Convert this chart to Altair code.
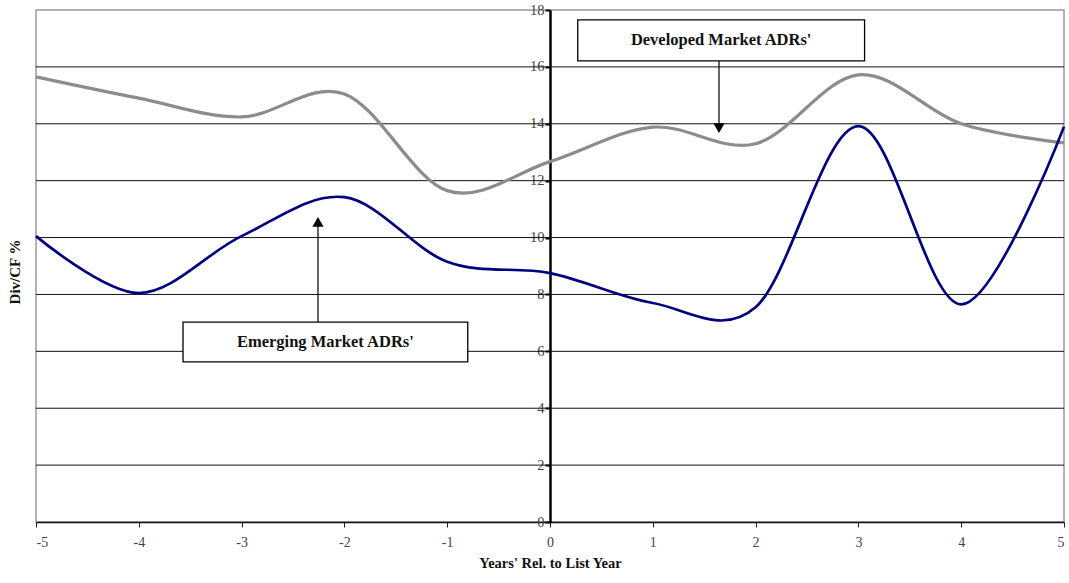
import altair as alt
import pandas as pd

# Years relative to the listing year
years = [-5, -4, -3, -2, -1, 0, 1, 2, 3, 4, 5]

# Dividend / cash-flow ratio (%) by group
developed = [15.65, 14.9, 14.24, 15.05, 11.65, 12.67, 13.88, 13.3, 15.72, 14.0, 13.33]
emerging = [10.05, 8.05, 10.05, 11.42, 9.15, 8.75, 7.7, 7.55, 13.92, 7.65, 13.9]

y_ticks = [0, 2, 4, 6, 8, 10, 12, 14, 16, 18]
grid_values = [2, 4, 6, 8, 10, 12, 14, 16]

SERIF = "Liberation Serif"
W, H = 1028, 512

df = pd.DataFrame(
    {"year": years * 2,
     "value": developed + emerging,
     "series": ["Developed"] * len(years) + ["Emerging"] * len(years)}
)

x_scale = alt.Scale(domain=[-5, 5], nice=False, zero=False)
y_scale = alt.Scale(domain=[0, 18], nice=False)

x_axis = alt.Axis(
    values=years, labelExpr="'' + datum.value", title="Years' Rel. to List Year",
    titleFont=SERIF, titleFontSize=14.5, titleFontWeight="bold",
    titleColor="#111111", titlePadding=7,
    labelFont=SERIF, labelFontSize=14, labelColor="#444444",
    labelPadding=8, tickSize=5, tickColor="#222222",
    domainColor="#111111", domainWidth=1.5, grid=False,
)
# The value axis sits on the x = 0 line, in the middle of the plot
y_axis = alt.Axis(
    values=y_ticks, title=None, offset=-W / 2,
    labelFont=SERIF, labelFontSize=14.5, labelColor="#444444",
    labelPadding=1, tickSize=5, tickColor="#000000", tickWidth=2,
    domainColor="#000000", domainWidth=2.5, grid=False,
)

grid = alt.Chart(pd.DataFrame({"v": grid_values})).mark_rule(
    color="#111111", strokeWidth=1
).encode(y=alt.Y("v:Q", scale=y_scale, axis=y_axis))

lines = alt.Chart(df).mark_line(interpolate="cardinal").encode(
    x=alt.X("year:Q", scale=x_scale, axis=x_axis),
    y=alt.Y("value:Q", scale=y_scale, axis=y_axis),
    color=alt.Color(
        "series:N",
        scale=alt.Scale(domain=["Developed", "Emerging"], range=["#8c8c8c", "#000080"]),
        legend=None,
    ),
    strokeWidth=alt.StrokeWidth(
        "series:N",
        scale=alt.Scale(domain=["Developed", "Emerging"], range=[3.2, 2.7]),
        legend=None,
    ),
)

# Callout boxes with pointer arrows
boxes = pd.DataFrame({
    "x1": [0.27, -3.57], "x2": [3.06, -0.80],
    "y1": [16.21, 5.63], "y2": [17.65, 7.03],
    "label": ["Developed Market ADRs'", "Emerging Market ADRs'"],
    "ax": [1.644, -2.257], "ay1": [16.21, 7.03], "ay2": [13.85, 10.55],
    "tx": [1.665, -2.185], "ty": [16.93, 6.33],
    "shape": ["triangle-down", "triangle-up"],
})
bx = alt.Chart(boxes)

arrow_shafts = bx.mark_rule(color="#000000", strokeWidth=1.2).encode(
    x=alt.X("ax:Q", scale=x_scale), y=alt.Y("ay1:Q", scale=y_scale), y2="ay2:Q"
)
arrow_heads = bx.mark_point(filled=True, color="#000000", size=125, opacity=1).encode(
    x=alt.X("ax:Q", scale=x_scale), y=alt.Y("ay2:Q", scale=y_scale),
    shape=alt.Shape("shape:N", scale=None),
)
rects = bx.mark_rect(fill="white", stroke="#000000", strokeWidth=1.3).encode(
    x=alt.X("x1:Q", scale=x_scale), x2="x2:Q",
    y=alt.Y("y1:Q", scale=y_scale), y2="y2:Q",
)
texts = bx.mark_text(
    font=SERIF, fontSize=16.5, fontWeight="bold", color="#111111", baseline="middle"
).encode(
    x=alt.X("tx:Q", scale=x_scale), y=alt.Y("ty:Q", scale=y_scale), text="label:N"
)

y_title = alt.Chart(pd.DataFrame({"t": ["Div/CF %"]})).mark_text(
    font=SERIF, fontSize=15, fontWeight="bold", color="#111111", angle=270,
    baseline="middle",
).encode(x=alt.value(-21), y=alt.value(262), text="t:N")

chart = alt.layer(
    grid, lines, arrow_shafts, arrow_heads, rects, texts, y_title
).properties(
    width=W, height=H,
    autosize=alt.AutoSizeParams(type="none"),
    padding={"left": 36, "top": 10, "right": 5, "bottom": 61},
    background="white",
).configure_view(
    stroke="#999999", strokeWidth=1.5
)

chart.save("out.html", embed_options={"renderer": "svg", "actions": False})
